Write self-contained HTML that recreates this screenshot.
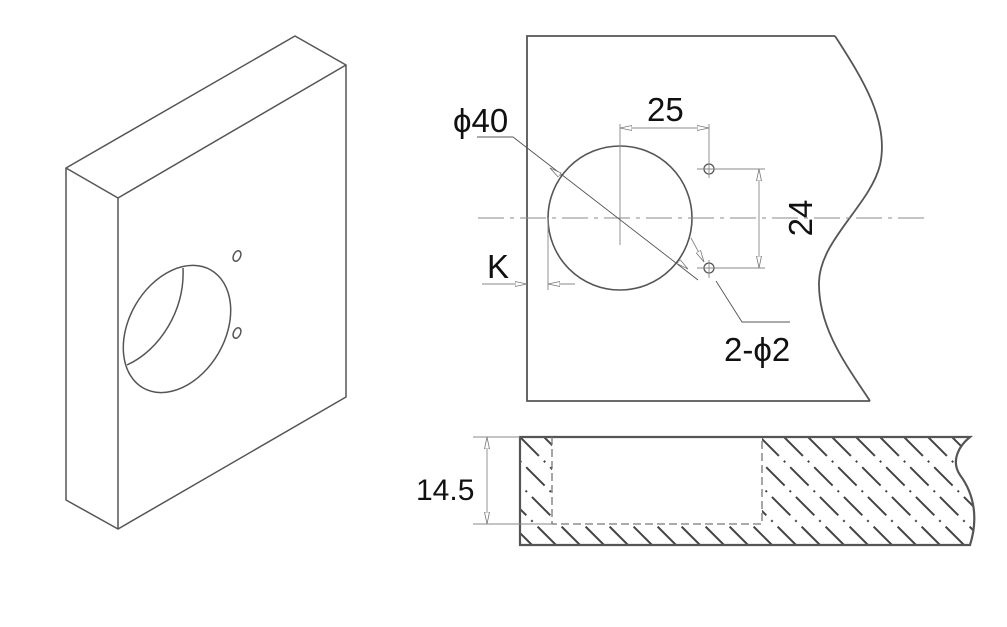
<!DOCTYPE html>
<html><head><meta charset="utf-8"><style>html,body{margin:0;padding:0;background:#fff}svg{display:block}</style></head>
<body>
<svg width="1007" height="627" viewBox="0 0 1007 627" xmlns="http://www.w3.org/2000/svg" font-family="Liberation Sans, sans-serif">
<defs>
<marker id="ar" viewBox="0 0 12 6" refX="12" refY="3" markerWidth="12" markerHeight="6" orient="auto-start-reverse" markerUnits="userSpaceOnUse">
<path d="M0 0.5 L12 3 L0 5.5 Z" fill="#fff" stroke="#777" stroke-width="0.8"/></marker>
<clipPath id="hc"><path d="M520 437 H552 V524 H762 V437 H970 C960 445,950 460,960 475 C975 495,978 520,970 545 H520 Z"/></clipPath>
</defs>
<!-- iso view -->
<g fill="none" stroke="#555" stroke-width="1.5" stroke-linejoin="round">
<path d="M66 168 L295 36 L346 65 L118 198 Z"/>
<path d="M66 168 V500 L118 529 V198"/>
<path d="M346 65 V397 L118 529"/>
<ellipse cx="177" cy="329" rx="48" ry="68" transform="rotate(30 177 329)"/>
<path d="M183 268 C185 310,160 350,127 365"/>
<ellipse cx="237" cy="256" rx="3.5" ry="5.5" transform="rotate(25 237 256)"/>
<ellipse cx="237" cy="333" rx="3.5" ry="5.5" transform="rotate(25 237 333)"/>
</g>
<!-- top view -->
<g fill="none" stroke="#555" stroke-width="1.8">
<path d="M835 36 H527 V401 H870 M835 36 C860 75,890 120,880 165 C870 205,820 240,819 282 C818 330,850 370,870 401"/>
<circle cx="620" cy="218" r="72" stroke-width="1.6"/>
<circle cx="709" cy="169" r="5" stroke-width="1.3"/>
<circle cx="709" cy="268" r="5" stroke-width="1.3"/>
</g>
<g fill="none" stroke="#888" stroke-width="0.9">
<path d="M478 218 H928" stroke-dasharray="26 6 4 6"/>
<path d="M620 124 V245 M709 124 V178 M709 260 V278 M697 169 H765 M697 268 H765 M548 218 V290"/>
<path d="M620 128 H709" marker-start="url(#ar)" marker-end="url(#ar)"/>
<path d="M759 169 V268" marker-start="url(#ar)" marker-end="url(#ar)"/>
<path d="M482 284 H527" marker-end="url(#ar)"/>
<path d="M575 284 H548" marker-end="url(#ar)"/>
<path d="M477 137 H513 L698 280" stroke="#555"/>
<path d="M561 176 L550 168" marker-end="url(#ar)"/>
<path d="M679 262 L688 269" marker-end="url(#ar)"/>
<path d="M790 322 H742 L716 281" stroke="#555"/>
<path d="M691 238 L704 262" marker-end="url(#ar)"/>
</g>
<g font-size="33" fill="#111">
<text x="453" y="132">ϕ40</text>
<text x="647" y="121">25</text>
<text x="487" y="278">K</text>
<text x="724" y="361">2-ϕ2</text>
<text x="800" y="230" transform="rotate(-90 800 218)" text-anchor="middle">24</text>
<text x="416" y="500" font-size="30">14.5</text>
</g>
<!-- section -->
<g clip-path="url(#hc)" stroke="#444" stroke-width="2" fill="none">
<g stroke-dasharray="26 7 2 7">
<path d="M508 545 l-108 -108 M532 545 l-108 -108 M556 545 l-108 -108 M580 545 l-108 -108 M604 545 l-108 -108 M628 545 l-108 -108 M652 545 l-108 -108 M676 545 l-108 -108 M700 545 l-108 -108 M724 545 l-108 -108 M748 545 l-108 -108 M772 545 l-108 -108 M796 545 l-108 -108 M820 545 l-108 -108 M844 545 l-108 -108 M868 545 l-108 -108 M892 545 l-108 -108 M916 545 l-108 -108 M940 545 l-108 -108 M964 545 l-108 -108 M988 545 l-108 -108 M1012 545 l-108 -108 M1036 545 l-108 -108 M1060 545 l-108 -108 M1084 545 l-108 -108"/>
</g>
</g>
<g fill="none" stroke="#555" stroke-width="2.2">
<path d="M520 437 H970 C960 445,950 460,960 475 C975 495,978 520,970 545 H520 Z"/>
</g>
<path d="M552 437 V524 H762 V437" fill="none" stroke="#777" stroke-width="1.3" stroke-dasharray="8 4"/>
<g fill="none" stroke="#888" stroke-width="0.9">
<path d="M473 437 H520 M473 524 H552"/>
<path d="M487 437 V524" marker-start="url(#ar)" marker-end="url(#ar)"/>
</g>
</svg>
</body></html>
